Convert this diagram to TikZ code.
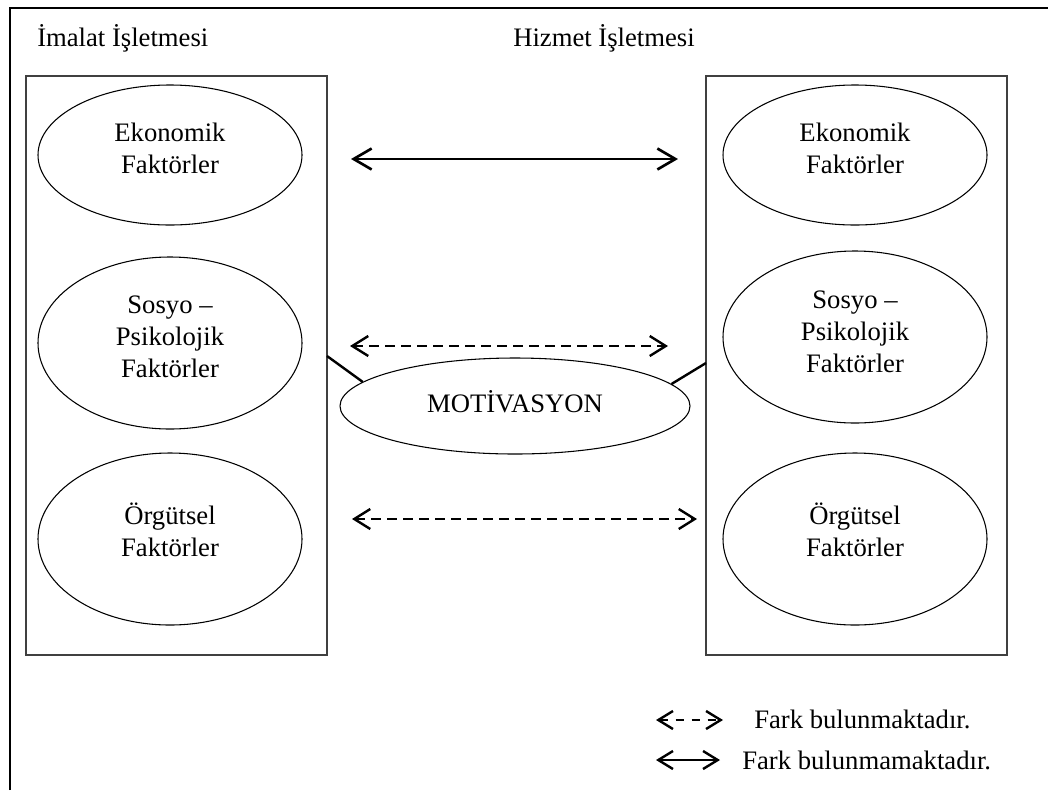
\documentclass[tikz,border=0pt]{standalone}
\usepackage{fontspec}
\setmainfont{Liberation Serif}
\usetikzlibrary{shapes.geometric,arrows.meta}
\begin{document}
\begin{tikzpicture}[x=0.75pt,y=-0.75pt,
  txt/.style={font=\fontsize{20}{24}\selectfont, align=center, inner sep=0pt},
  elli/.style={draw, ellipse, line width=0.8pt, inner sep=0pt, minimum width=198pt},
  ellsmall/.style={elli, minimum height=105pt},
  ellbig/.style={elli, minimum height=129pt},
  colbox/.style={draw=black!75, line width=1pt, minimum width=225.75pt, minimum height=434.25pt, inner sep=0pt},
  frameline/.style={line width=1.3pt},
  linkline/.style={line width=1.8pt},
  solidarr/.style={line width=2pt, {Straight Barb[length=13.5pt,width=15.75pt]}-{Straight Barb[length=13.5pt,width=15.75pt]}},
  dasharr/.style={line width=1.8pt, dash pattern=on 7.5pt off 4.5pt, {Straight Barb[length=12pt,width=15pt]}-{Straight Barb[length=12pt,width=15pt]}},
  legdash/.style={line width=1.8pt, dash pattern=on 6pt off 6pt, {Straight Barb[length=11pt,width=13.5pt]}-{Straight Barb[length=11pt,width=13.5pt]}},
  legsolid/.style={line width=1.8pt, {Straight Barb[length=11pt,width=13.5pt]}-{Straight Barb[length=11pt,width=13.5pt]}}
]
\useasboundingbox (0,0) rectangle (1048,790);

% outer frame (top and left only)
\coordinate (fTL) at (10,8);
\coordinate (fTR) at (1048,8);
\coordinate (fBL) at (10,790);
\draw[frameline] (fBL) -- (fTL) -- (fTR);

% titles
\node[txt, anchor=west] (t1) at (37,38) {İmalat İşletmesi};
\node[txt, anchor=west] (t2) at (513,38) {Hizmet İşletmesi};

% column boxes
\node[colbox] (lb) at (176.5,365.5) {};
\node[colbox] (rb) at (856.5,365.5) {};

% left ellipses
\node[ellsmall] (l1) at (170,155) {};
\node[txt] (l1t) at (170,148) {Ekonomik\\Faktörler};
\node[ellbig] (l2) at (170,343) {};
\node[txt] (l2t) at (170,337) {Sosyo –\\Psikolojik\\Faktörler};
\node[ellbig] (l3) at (170,539) {};
\node[txt] (l3t) at (170,530) {Örgütsel\\Faktörler};

% right ellipses
\node[ellsmall] (r1) at (855,155) {};
\node[txt] (r1t) at (855,148) {Ekonomik\\Faktörler};
\node[ellbig] (r2) at (855,337) {};
\node[txt] (r2t) at (855,332) {Sosyo –\\Psikolojik\\Faktörler};
\node[ellbig] (r3) at (855,539) {};
\node[txt] (r3t) at (855,530) {Örgütsel\\Faktörler};

% motivation
\node[draw, ellipse, line width=0.8pt, minimum width=262.5pt, minimum height=72pt, inner sep=0pt] (mot) at (515,406) {};
\node[txt] (mott) at (515,402) {MOTİVASYON};

% links box -> motivation
\coordinate (lbk) at (327,356);
\coordinate (rbk) at (706,363);
\draw[linkline] (lbk) -- (mot.171);
\draw[linkline] (rbk) -- (mot.8);

% arrows
\coordinate (a1l) at (351,159);
\coordinate (a1r) at (678,159);
\draw[solidarr] (a1l) -- (a1r);
\coordinate (a2l) at (350,346);
\coordinate (a2r) at (668,346);
\draw[dasharr] (a2l) -- (a2r);
\coordinate (a3l) at (352,519);
\coordinate (a3r) at (697,519);
\draw[dasharr] (a3l) -- (a3r);

% legend
\coordinate (g1l) at (656,720);
\coordinate (g1r) at (723,720);
\draw[legdash] (g1l) -- (g1r);
\node[txt, anchor=west] (g1t) at (754,719) {Fark bulunmaktadır.};
\coordinate (g2l) at (656,760);
\coordinate (g2r) at (720,760);
\draw[legsolid] (g2l) -- (g2r);
\node[txt, anchor=west] (g2t) at (742,760) {Fark bulunmamaktadır.};
\end{tikzpicture}
\end{document}
